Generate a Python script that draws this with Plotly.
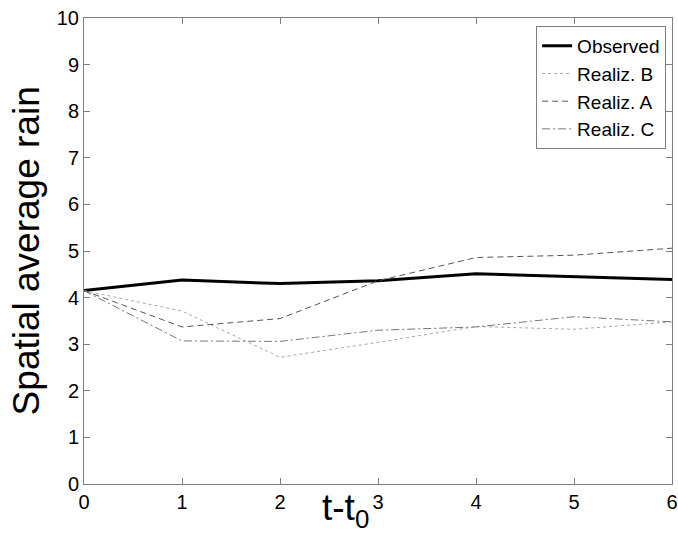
import plotly.graph_objects as go

t = [0, 1, 2, 3, 4, 5, 6]
observed = [4.15, 4.38, 4.30, 4.36, 4.51, 4.45, 4.39]
realiz_b = [4.15, 3.71, 2.72, 3.04, 3.38, 3.32, 3.48]
realiz_a = [4.15, 3.37, 3.55, 4.36, 4.86, 4.91, 5.06]
realiz_c = [4.15, 3.07, 3.06, 3.30, 3.37, 3.59, 3.48]

FONT = "Arial, Liberation Sans, sans-serif"

fig = go.Figure()
fig.add_trace(go.Scatter(x=t, y=observed, mode="lines", name="Observed",
                         line=dict(color="black", width=3)))
fig.add_trace(go.Scatter(x=t, y=realiz_b, mode="lines", name="Realiz. B",
                         line=dict(color="#a8a8a8", width=1, dash="dot")))
fig.add_trace(go.Scatter(x=t, y=realiz_a, mode="lines", name="Realiz. A",
                         line=dict(color="#555555", width=1, dash="6px,4px")))
fig.add_trace(go.Scatter(x=t, y=realiz_c, mode="lines", name="Realiz. C",
                         line=dict(color="#777777", width=1, dash="8px,3px,2px,3px")))

axis_common = dict(showgrid=False, zeroline=False, showline=True, linecolor="#808080",
                   linewidth=1, mirror="ticks", ticks="inside", ticklen=6,
                   tickcolor="#808080", automargin=False,
                   tickfont=dict(family=FONT, size=20, color="black"))

fig.update_xaxes(range=[0, 6], tickmode="array", tickvals=t, **axis_common)
fig.update_yaxes(range=[0, 10], tickmode="array", tickvals=list(range(11)), **axis_common)

fig.add_annotation(x=0.444, y=-0.003, xref="paper", yref="paper", text="t-t<sub>0</sub>",
                   showarrow=False, xanchor="center", yanchor="top",
                   font=dict(family=FONT, size=37, color="black"))
fig.add_annotation(x=-0.098, y=0.5, xref="paper", yref="paper", text="Spatial average rain",
                   showarrow=False, textangle=-90, xanchor="center", yanchor="middle",
                   font=dict(family=FONT, size=37, color="black"))

fig.update_layout(
    width=678, height=542,
    margin=dict(l=84, r=6, t=18, b=58),
    plot_bgcolor="white", paper_bgcolor="white",
    font=dict(family=FONT, color="black"),
    legend=dict(x=0.99, y=0.983, xanchor="right", yanchor="top",
                bgcolor="white", bordercolor="#808080", borderwidth=1,
                font=dict(size=19), tracegroupgap=0),
)

fig.write_html("out.html", config={"displayModeBar": False},
               post_script="document.body.style.margin='0';")
